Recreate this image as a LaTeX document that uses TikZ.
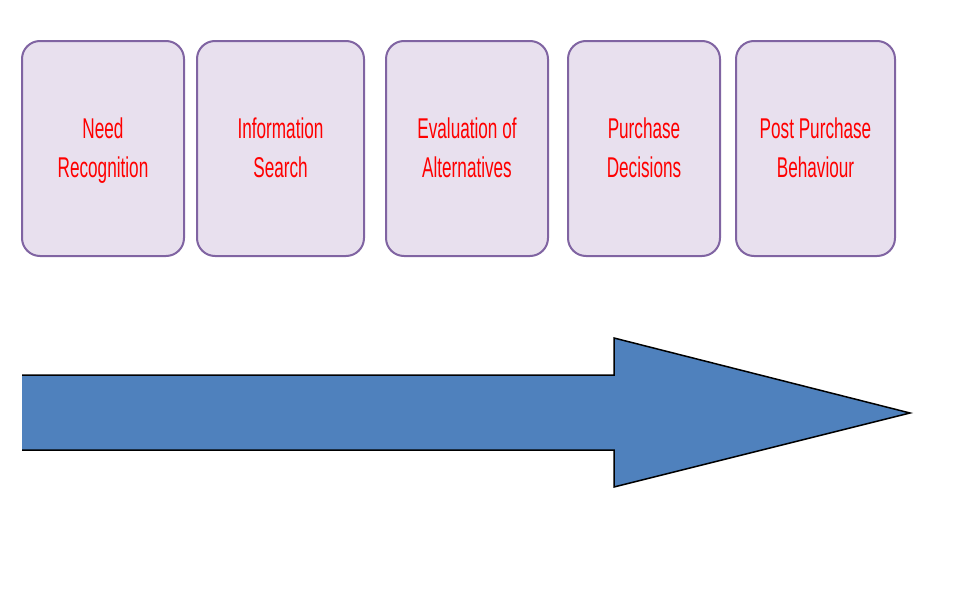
\documentclass[tikz,border=0pt]{standalone}
\usepackage{fontspec}
\setmainfont{Liberation Sans}
\definecolor{boxfill}{RGB}{232,224,238}
\definecolor{boxline}{RGB}{128,100,162}
\definecolor{arrowfill}{RGB}{79,129,189}
\begin{document}
\begin{tikzpicture}[x=1pt,y=-1pt,
  stage/.style={draw=boxline,line width=2pt,fill=boxfill,rounded corners=18pt,inner sep=0pt},
  lbl/.style={text=red,align=center,font=\fontsize{22}{30}\selectfont}]
\useasboundingbox (0,0) rectangle (958,597);
\newcommand{\stg}[1]{\scalebox{0.78}[1.3]{\begin{tabular}{c}#1\end{tabular}}}
\foreach \n/\a/\b/\t in {a/22/184/{Need\\Recognition},b/197/364/{Information\\Search},c/386/548/{Evaluation of\\Alternatives},d/568/720/{Purchase\\Decisions},e/736/895/{Post Purchase\\Behaviour}}{
  \draw[stage] (\a,41) rectangle (\b,256);
  \node[lbl] (\n) at ({(\a+\b)/2},150) {\stg{\t}};
}
\draw[line width=1.5pt,fill=arrowfill] (22,375) -- (614,375) -- (614,338) -- (910,413) -- (614,487) -- (614,450) -- (22,450);
\end{tikzpicture}
\end{document}
